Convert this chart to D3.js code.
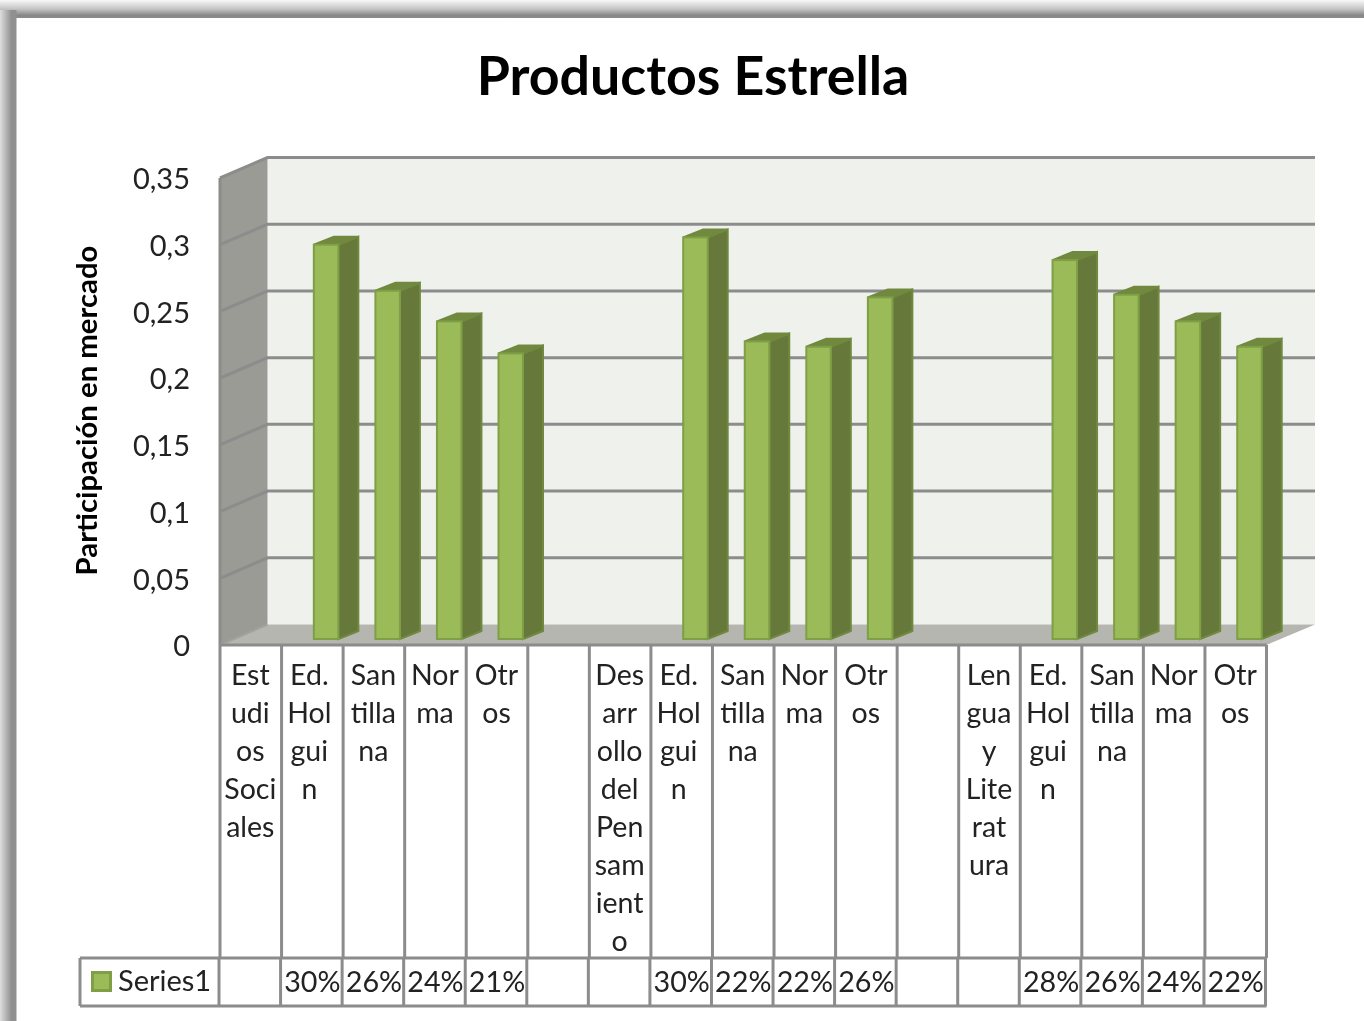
<!DOCTYPE html>
<html><head><meta charset="utf-8">
<script src="https://cdn.jsdelivr.net/npm/d3@7"></script>
<style>
html,body{margin:0;padding:0;background:#fff;overflow:hidden}
svg{display:block;filter:blur(.6px)}
text{font-family:Lato,"Open Sans",sans-serif;fill:#222}
</style></head><body>
<svg id="c" width="1364" height="1021"></svg>
<script>
const chartTitle = "Productos Estrella";
const yTitle = "Participación en mercado";
const seriesName = "Series1";
const categoryLines = [
  ["Est","udi","os","Soci","ales"],["Ed.","Hol","gui","n"],["San","tilla","na"],["Nor","ma"],["Otr","os"],[],
  ["Des","arr","ollo","del","Pen","sam","ient","o"],["Ed.","Hol","gui","n"],["San","tilla","na"],["Nor","ma"],["Otr","os"],[],
  ["Len","gua","y","Lite","rat","ura"],["Ed.","Hol","gui","n"],["San","tilla","na"],["Nor","ma"],["Otr","os"]
];
const values = [null,.2955,.261,.238,.214,null,null,.301,.223,.219,.256,null,null,.284,.258,.238,.219];
const yTicks = [0,.05,.1,.15,.2,.25,.3,.35];

const svg = d3.select("#c");
const defs = svg.append("defs");
const g1 = defs.append("linearGradient").attr("id","ft").attr("x1",0).attr("x2",0).attr("y1",0).attr("y2",1);
g1.append("stop").attr("offset",0).attr("stop-color","#f8f8f8");
g1.append("stop").attr("offset",.5).attr("stop-color","#c4c4c4");
g1.append("stop").attr("offset",.85).attr("stop-color","#878787");
g1.append("stop").attr("offset",1).attr("stop-color","#8c8c8c");
const g2 = defs.append("linearGradient").attr("id","fl").attr("x1",0).attr("x2",1).attr("y1",0).attr("y2",0);
g2.append("stop").attr("offset",0).attr("stop-color","#dedede");
g2.append("stop").attr("offset",.5).attr("stop-color","#a6a6a6");
g2.append("stop").attr("offset",.7).attr("stop-color","#909090");
g2.append("stop").attr("offset",1).attr("stop-color","#909090");
svg.append("rect").attr("x",0).attr("y",0).attr("width",1364).attr("height",18).attr("fill","url(#ft)");
svg.append("rect").attr("x",0).attr("y",10).attr("width",16.5).attr("height",1011).attr("fill","url(#fl)");

const DX = 47.5, DY = -20.5;
const x = d3.scaleBand().domain(d3.range(values.length)).range([220,1266.5]);
const y = d3.scaleLinear().domain([0,.35]).range([645,178]);
const grid = "#8c8c8c";

// walls and floor
const [x0,x1] = x.range(), y0 = y(0), yT = y(.35);
svg.append("polygon").attr("points",[[x0+DX,y0+DY],[x1+DX+1,y0+DY],[x1+DX+1,yT+DY],[x0+DX,yT+DY]].join(" ")).attr("fill","#eff2ec");
svg.append("polygon").attr("points",[[x0,y0],[x0+DX,y0+DY],[x0+DX,yT+DY],[x0,yT]].join(" ")).attr("fill","#999b94");
svg.append("polygon").attr("points",[[x0,y0],[x0+DX,y0+DY],[x1+DX+1,y0+DY],[x1,y0]].join(" ")).attr("fill","#b4b6af");
svg.append("line").attr("x1",x0).attr("x2",x0).attr("y1",yT).attr("y2",y0).attr("stroke",grid).attr("stroke-width",3);
svg.selectAll(".g").data(yTicks.slice(1)).join("polyline").attr("fill","none").attr("stroke",grid).attr("stroke-width",3)
  .attr("points",d=>[[x0,y(d)],[x0+DX,y(d)+DY],[x1+DX+1,y(d)+DY]].join(" "));
svg.append("line").attr("x1",x0).attr("x2",x0+DX).attr("y1",y0).attr("y2",y0+DY).attr("stroke","#a0a29b").attr("stroke-width",2);

// bars
const bw = 24.5, sx = 20, sy = -8, by = -6;
const bars = svg.selectAll(".b").data(values.map((v,i)=>({v,i})).filter(d=>d.v!=null)).join("g");
const cx = i => x(i)+x.bandwidth()/2;
const bx = i => cx(i)+1.5;
bars.append("polygon").attr("fill","#66783a").attr("stroke","#70893e").attr("stroke-width",2)
  .attr("points",d=>{const l=bx(d.i)+bw,t=y(d.v)+by,b=y0+by;return [[l,t],[l+sx,t+sy],[l+sx,b+sy],[l,b]].join(" ")});
bars.append("polygon").attr("fill","#70893e").attr("stroke","#70893e").attr("stroke-width",2)
  .attr("points",d=>{const l=bx(d.i),t=y(d.v)+by;return [[l,t],[l+sx,t+sy],[l+bw+sx,t+sy],[l+bw,t]].join(" ")});
bars.append("rect").attr("fill","#9bbb59").attr("stroke","#7f9f47").attr("stroke-width",2)
  .attr("x",d=>bx(d.i)).attr("width",bw).attr("y",d=>y(d.v)+by).attr("height",d=>y0-y(d.v));

// y axis
const ax = svg.append("g").attr("transform","translate(190,1.5)")
  .call(d3.axisLeft(y).tickValues(yTicks).tickSize(0).tickPadding(0).tickFormat(d=>String(+d.toFixed(2)).replace(".",",")));
ax.select(".domain").remove();
ax.selectAll("text").style("font-family","Lato,sans-serif").style("font-size","29px").attr("fill","#222");

// data table
const tT = 645, tM = 958, tB = 1006, tL = 80;
const line = (a,b,c,d)=>svg.append("line").attr("x1",a).attr("y1",b).attr("x2",c).attr("y2",d).attr("stroke",grid).attr("stroke-width",3);
line(x0,tT,x1,tT); line(tL,tM,x1,tM); line(tL,tB,x1,tB); line(tL,tM,tL,tB);
d3.range(values.length+1).forEach(i=>{const p=i<values.length?x(i):x1; line(p,tT,p,tM); line(p-1,tM,p-1,tB);});

categoryLines.forEach((ls,i)=>{
  const off = ls[0]==="Ed." ? -3 : -0.5;
  svg.append("text").attr("text-anchor","middle").attr("font-size",28.5)
    .selectAll("tspan").data(ls).join("tspan")
    .attr("x",cx(i)+off).attr("y",(d,k)=>685+k*38).text(d=>d);
});
const pct = d3.format(".0%");
svg.selectAll(".p").data(values.map((v,i)=>({v,i})).filter(d=>d.v!=null)).join("text")
  .attr("x",d=>cx(d.i)).attr("y",992).attr("text-anchor","middle").attr("font-size",28.7).text(d=>pct(d.v));

// legend key
svg.append("rect").attr("x",92.5).attr("y",972.5).attr("width",18).attr("height",18).attr("fill","#9bbb59").attr("stroke","#7f9f47").attr("stroke-width",3);
svg.append("text").attr("x",118).attr("y",991).attr("font-size",29).text(seriesName);

// titles
svg.append("text").attr("x",693).attr("y",94.5).attr("text-anchor","middle").attr("font-size",53.7).attr("font-weight",700).style("fill","#000").text(chartTitle);
svg.append("text").attr("transform","translate(97,410.5) rotate(-90)").attr("text-anchor","middle").attr("font-size",29.3).attr("font-weight",700).style("fill","#000").text(yTitle);
</script></body></html>
